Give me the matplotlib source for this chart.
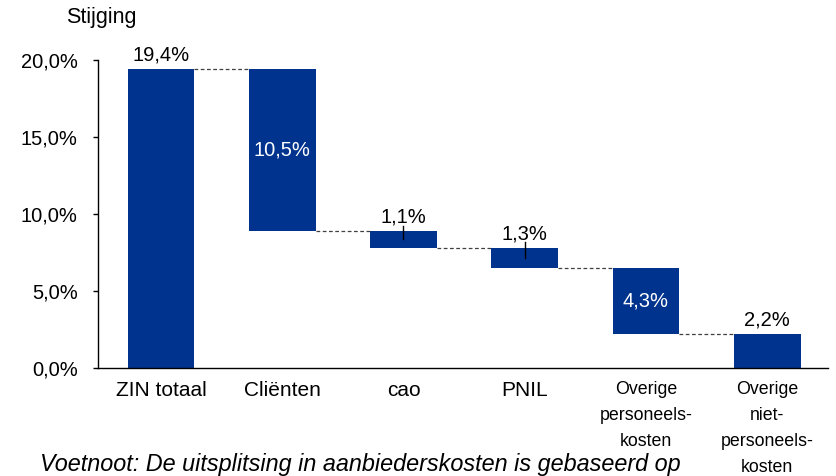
import numpy as np
import matplotlib
matplotlib.use("Agg")
import matplotlib.pyplot as plt

# data (percent points)
categories = ["ZIN totaal", "Cliënten", "cao", "PNIL",
              "Overige\npersoneels-\nkosten", "Overige\nniet-\npersoneels-\nkosten"]
values = [19.4, 10.5, 1.1, 1.3, 4.3, 2.2]
value_labels = ["19,4%", "10,5%", "1,1%", "1,3%", "4,3%", "2,2%"]
label_inside = [False, True, False, False, True, False]
yticks = [0, 5, 10, 15, 20]
ytick_labels = ["0,0%", "5,0%", "10,0%", "15,0%", "20,0%"]

bar_color = "#00338D"
plt.rcParams['font.family'] = ['Liberation Sans', 'DejaVu Sans']

# waterfall: first bar from 0, others step down
bottoms = [0.0]
tops = [values[0]]
level = values[0]
for v in values[1:]:
    tops.append(level)
    level = level - v
    bottoms.append(level)

fig = plt.figure(figsize=(8.37, 4.76), dpi=100)
ax = fig.add_axes([0.117, 0.2269, 0.872, 0.6471])

x = np.arange(len(categories))
w = 0.55
heights = [t - b for t, b in zip(tops, bottoms)]
ax.bar(x, heights, bottom=bottoms, width=w, color=bar_color, zorder=2)

# connector lines
for i in range(len(x) - 1):
    lvl = bottoms[i] if i > 0 else tops[i]
    ax.plot([x[i] + w / 2, x[i + 1] - w / 2], [lvl, lvl], color="#404040",
            lw=0.9, ls=(0, (3, 2)), zorder=1)

# value labels
for i in range(len(x)):
    if label_inside[i]:
        ax.text(x[i], (tops[i] + bottoms[i]) / 2, value_labels[i], ha="center",
                va="center", color="white", fontsize=14.5)
    else:
        ax.text(x[i], tops[i] + 0.28, value_labels[i], ha="center", va="bottom",
                color="black", fontsize=14.5)

# small leader marks on the thin bars
for i in [2, 3]:
    ax.plot([x[i], x[i]], [tops[i] + 0.35, (tops[i] + bottoms[i]) / 2],
            color="black", lw=1, zorder=3)

ax.set_xlim(-0.52, 5.5)
ax.set_ylim(0, 20)
ax.set_yticks(yticks)
ax.set_yticklabels(ytick_labels, fontsize=14.5)
ax.set_xticks(x)
ax.set_xticklabels(categories)
for lab, name in zip(ax.get_xticklabels(), categories):
    if "\n" in name:
        lab.set_fontsize(12.8)
        lab.set_linespacing(1.68)
    else:
        lab.set_fontsize(15)
ax.tick_params(axis="x", length=0, pad=9.5)
ax.tick_params(axis="y", length=3.5, width=1, direction="out", pad=11)
for s in ["top", "right"]:
    ax.spines[s].set_visible(False)
ax.spines["left"].set_linewidth(1)
ax.spines["bottom"].set_linewidth(1)

fig.text(101 / 837, 1 - 23 / 476, "Stijging", ha="center", va="baseline", fontsize=15.5)
fig.text(40 / 837, 1 - 471 / 476,
         "Voetnoot: De uitsplitsing in aanbiederskosten is gebaseerd op",
         ha="left", va="baseline", fontsize=16.8, style="italic")

fig.savefig("out.png", dpi=100)
